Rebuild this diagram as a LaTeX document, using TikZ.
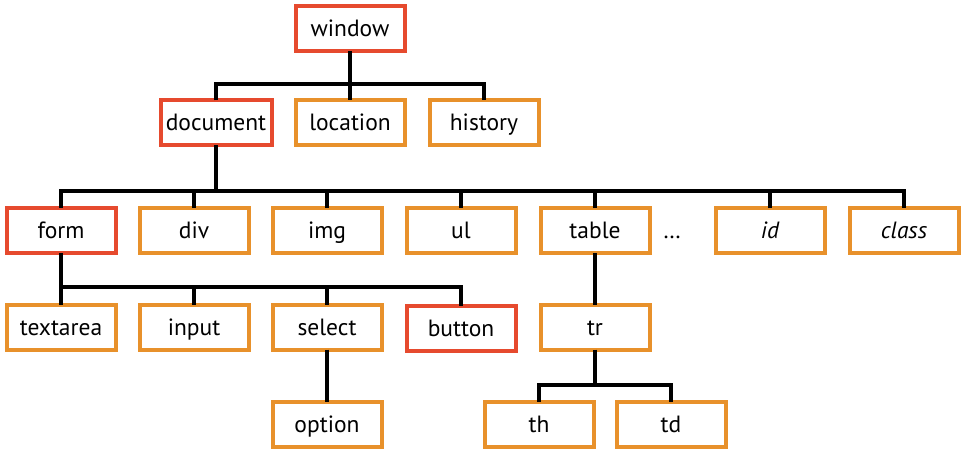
\documentclass[tikz,border=0pt]{standalone}
\usepackage{fontspec}
\setmainfont{PT Sans}
\definecolor{boxred}{HTML}{E64A2E}
\definecolor{boxorange}{HTML}{E8912B}
\begin{document}
\begin{tikzpicture}[x=1pt,y=-1pt,
  box/.style={draw=boxorange,line width=4pt,minimum width=109pt,minimum height=45pt,inner sep=0pt,outer sep=0pt,font=\fontsize{23.5}{26}\selectfont,text height=18pt,text depth=2pt,fill=white},
  redbox/.style={box,draw=boxred},
  conn/.style={draw=black,line width=4pt}]
\useasboundingbox (0,0) rectangle (966,453);
% nodes
\node[redbox] (window) at (350,28.7) {window};
\node[redbox,minimum width=111pt] (document) at (216,122.8) {document};
\node[box] (location) at (350,122.8) {location};
\node[box] (history) at (484,122.8) {history};
\node[redbox] (form) at (61,230.5) {form};
\node[box] (div) at (194,230.5) {div};
\node[box] (img) at (327,230.5) {img};
\node[box] (ul) at (461,230.5) {ul};
\node[box] (table) at (595,230.5) {table};
\node[inner sep=0pt,font=\fontsize{23.5}{26}\selectfont,text height=18pt,text depth=2pt] (dots) at (672,230.5) {\dots};
\node[box] (id) at (770,230.5) {\itshape id};
\node[box] (class) at (904,230.5) {\itshape class};
\node[box] (textarea) at (61,327.2) {textarea};
\node[box] (input) at (194,327.2) {input};
\node[box] (select) at (327,327.2) {select};
\node[redbox] (button) at (461,328.2) {button};
\node[box] (tr) at (595,327.2) {tr};
\node[box] (option) at (327,424) {option};
\node[box] (th) at (539,424) {th};
\node[box] (td) at (671,424) {td};
% connectors
\coordinate (b1) at (350,84);
\draw[conn] (window.south) -- (b1);
\draw[conn] (document.north) |- (b1) -| (history.north);
\draw[conn] (b1) -- (location.north);
\coordinate (b2) at (216,191);
\draw[conn] (document.south) -- (b2);
\draw[conn] (form.north) |- (b2) -| (class.north);
\foreach \n in {div,img,ul,table,id}{\draw[conn] (\n.north) -- (\n.north |- b2);}
\coordinate (b3) at (61,287);
\draw[conn] (form.south) -- (textarea.north);
\draw[conn] (b3) -| (button.north);
\foreach \n in {input,select}{\draw[conn] (\n.north) -- (\n.north |- b3);}
\draw[conn] (table.south) -- (tr.north);
\draw[conn] (select.south) -- (option.north);
\coordinate (b4) at (595,385);
\draw[conn] (tr.south) -- (b4);
\draw[conn] (th.north) |- (b4) -| (td.north);
\end{tikzpicture}
\end{document}
